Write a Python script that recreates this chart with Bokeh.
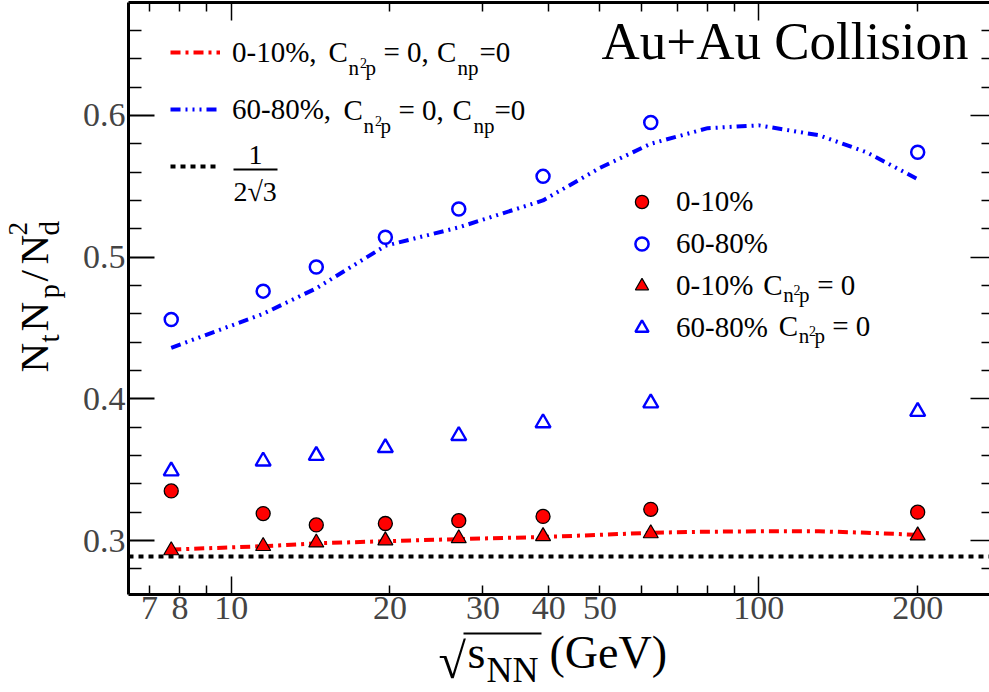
import math
from bokeh.plotting import figure
from bokeh.models import (LinearAxis, FixedTicker, Label, Legend, LegendItem,
                          BoxAnnotation, Range1d)
from bokeh.embed import file_html
from bokeh.resources import INLINE

FONT = "Liberation Serif"

# ---------------- data ----------------
energy = [7.7, 11.5, 14.5, 19.6, 27, 39, 62.4, 200]
ratio_central = [0.335, 0.319, 0.311, 0.312, 0.314, 0.317, 0.322, 0.320]
ratio_peripheral = [0.456, 0.476, 0.493, 0.514, 0.534, 0.557, 0.595, 0.574]
ratio_central_c0 = [0.293, 0.296, 0.2985, 0.300, 0.3015, 0.303, 0.305, 0.3035]
ratio_peripheral_c0 = [0.349, 0.356, 0.360, 0.3655, 0.374, 0.383, 0.397, 0.391]

model_energy = [7.7, 11.5, 14.5, 19.6, 27, 39, 50, 62.4, 80, 100, 130, 160, 200]
model_central = [0.2936, 0.296, 0.298, 0.2995, 0.301, 0.3025, 0.304, 0.3055,
                 0.3062, 0.3065, 0.3065, 0.3055, 0.304]
model_peripheral = [0.436, 0.460, 0.478, 0.508, 0.521, 0.540, 0.563, 0.580,
                    0.591, 0.593, 0.586, 0.574, 0.555]
coalescence_limit = 1 / (2 * math.sqrt(3))

# axis box (data units)
X_START, X_END = 6.39, 273.6
Y_START, Y_END = 0.2619, 0.6797
x_decade_ticks = [10, 100]
x_other_label_ticks = [7, 8, 20, 30, 40, 50, 200]
x_minor_ticks = [7, 8, 9, 20, 30, 40, 50, 60, 70, 80, 90, 200]
y_ticks = [0.3, 0.4, 0.5, 0.6]
y_minor_ticks = [0.28, 0.32, 0.34, 0.36, 0.38, 0.42, 0.44, 0.46, 0.48,
                 0.52, 0.54, 0.56, 0.58, 0.62, 0.64, 0.66]

# ---------------- geometry ----------------
W, H = 989, 692
BOX_L, BOX_R, BOX_T, BOX_B = 128, 989, 2, 594      # axis box in pixels
PPD = (BOX_R - BOX_L) / math.log10(X_END / X_START)
PPU = (BOX_B - BOX_T) / (Y_END - Y_START)
XR = (10 ** (math.log10(X_START) - BOX_L / PPD),
      10 ** (math.log10(X_END) + (W - BOX_R) / PPD))
YR = (Y_START - (H - BOX_B) / PPU, Y_END + BOX_T / PPU)

p = figure(width=W, height=H, x_axis_type="log",
           x_range=Range1d(*XR), y_range=Range1d(*YR),
           x_axis_location=None, y_axis_location=None,
           output_backend="svg", toolbar_location=None,
           min_border=0)
p.outline_line_color = None
p.xgrid.visible = False
p.ygrid.visible = False
p.background_fill_color = "white"
p.border_fill_color = "white"


def axis(ticks, minor, major_in, minor_in, loc, bounds, line=True,
         size="34px", standoff=2):
    ax = LinearAxis(ticker=FixedTicker(ticks=ticks, minor_ticks=minor),
                    major_tick_in=major_in, major_tick_out=0,
                    minor_tick_in=minor_in, minor_tick_out=0,
                    major_label_text_font=FONT,
                    major_label_text_font_size=size,
                    major_label_standoff=standoff,
                    major_tick_line_width=1.5, minor_tick_line_width=1.5,
                    axis_line_width=3, fixed_location=loc, bounds=bounds)
    if not line:
        ax.axis_line_color = None
    return ax


XB, YB = (X_START, X_END), (Y_START, Y_END)
# bottom: long labelled ticks at decades + short ticks, then the other labels
p.add_layout(axis(x_decade_ticks, x_minor_ticks, 18, 9, Y_START, XB), "below")
p.add_layout(axis(x_other_label_ticks, [], 0, 0, Y_START, XB, line=False), "below")
# top: short and long ticks, no labels
p.add_layout(axis([], x_minor_ticks, 0, 9, Y_END, XB), "above")
p.add_layout(axis([], x_decade_ticks, 0, 18, Y_END, XB, line=False), "above")
# left
y_ax = axis(y_ticks, y_minor_ticks, 26, 13, X_START, YB, standoff=3)
y_ax.major_tick_line_width = 2
p.add_layout(y_ax, "left")
# right: ticks only
p.add_layout(axis([], y_minor_ticks, 0, 8, X_END, YB, line=False), "right")
p.add_layout(axis([], y_ticks, 0, 19, X_END, YB, line=False), "right")

# ---------------- curves & markers ----------------
r_limit = p.line([X_START, X_END], [coalescence_limit, coalescence_limit],
                 line_color="black", line_width=4, line_dash="5 5")
r_mc = p.line(model_energy, model_central, line_color="red", line_width=4,
              line_dash="10 5 3 5")
r_mp = p.line(model_energy, model_peripheral, line_color="blue", line_width=4,
              line_dash="10 5 2 5 2 5 2 5")

r_pc0 = p.scatter(energy, ratio_peripheral_c0, marker="triangle", size=15,
                  fill_color="white", line_color="blue", line_width=2.4)
r_cc0 = p.scatter(energy, ratio_central_c0, marker="triangle", size=15,
                  fill_color="red", line_color="black", line_width=1.2)
r_c = p.scatter(energy, ratio_central, marker="circle", size=14,
                fill_color="red", line_color="black", line_width=1.3)
r_p = p.scatter(energy, ratio_peripheral, marker="circle", size=13,
                fill_color="white", line_color="blue", line_width=2.5)

# ---------------- legends ----------------
leg_style = dict(padding=0, margin=0, border_line_color=None,
                 background_fill_alpha=0, label_text_font=FONT,
                 label_text_font_size="29px", label_text_color="black")
leg1 = Legend(items=[LegendItem(label="0-10%,", renderers=[r_mc]),
                     LegendItem(label="60-80%,", renderers=[r_mp]),
                     LegendItem(label=" ", renderers=[r_limit])],
              location=(170, H - 186), glyph_width=50, glyph_height=40,
              label_height=40, spacing=17, label_standoff=12, **leg_style)
p.add_layout(leg1)

leg2 = Legend(items=[LegendItem(label="0-10%", renderers=[r_c]),
                     LegendItem(label="60-80%", renderers=[r_p]),
                     LegendItem(label="0-10%", renderers=[r_cc0]),
                     LegendItem(label="60-80%", renderers=[r_pc0])],
              location=(625, H - 344), glyph_width=33, glyph_height=33,
              label_height=33, spacing=9, label_standoff=18, **leg_style)
p.add_layout(leg2)

# ---------------- texts ----------------
SHIFT = 0.40   # baseline correction (fraction of font size)


def put(text, size, x, y, align="left"):
    p.add_layout(Label(x=x, y=H - (y - SHIFT * size),
                       x_units="screen", y_units="screen",
                       text=text, text_font=FONT, text_font_size=f"{size}px",
                       text_color="black", text_baseline="alphabetic",
                       text_align=align))


def put_rot(text, size, y_start, base_x):
    p.add_layout(Label(x=base_x - SHIFT * size, y=H - y_start,
                       x_units="screen", y_units="screen", text=text,
                       text_font=FONT, text_font_size=f"{size}px",
                       text_color="black", text_baseline="alphabetic",
                       text_align="left", angle=math.pi / 2))


def bar(x0, x1, y0, y1):
    p.add_layout(BoxAnnotation(left=x0, right=x1, top=H - y0, bottom=H - y1,
                               left_units="screen", right_units="screen",
                               top_units="screen", bottom_units="screen",
                               fill_color="black", fill_alpha=1,
                               line_color=None))


# title
put("Au+Au Collision", 53, 601, 62)

# legend 1 subscripted parts
for (t, s, x, y) in [("C", 29, 328, 63.5),
                     ("n", 21, 348, 75.5), ("2", 14, 359.5, 68),
                     ("p", 21, 365, 75.5), ("= 0,", 29, 383, 63.5),
                     ("C", 29, 436.5, 63.5), ("np", 21, 457, 75.5),
                     ("=0", 29, 479, 63.5),
                     ("C", 29, 343, 121.5),
                     ("n", 21, 363, 133.5), ("2", 14, 374.5, 126),
                     ("p", 21, 380, 133.5), ("= 0,", 29, 398, 121.5),
                     ("C", 29, 452, 121.5), ("np", 21, 473, 133.5),
                     ("=0", 29, 494, 121.5)]:
    put(t, s, x, y)
put("1", 28, 255, 166, align="center")
bar(233, 277, 168, 170)
put("2\u221a3", 28, 233, 202)

# legend 2 subscripted parts
for (t, s, x, y) in [("C", 29, 762.7, 296),
                     ("n", 21, 782.7, 303), ("2", 14, 793, 295),
                     ("p", 21, 798.5, 303), ("= 0", 29, 816.7, 296),
                     ("C", 29, 778.3, 337),
                     ("n", 21, 798.3, 344), ("2", 14, 808.6, 336),
                     ("p", 21, 814, 344), ("= 0", 29, 831.7, 337)]:
    put(t, s, x, y)

# x axis title
put("\u221a", 50, 438, 680)
bar(463, 541, 632, 634)
put("s", 46, 467, 670)
put("NN", 36, 486, 684)
put("(GeV)", 46, 549, 670)

# y axis title (rotated)
put_rot("N", 41, 372, 50)
put_rot("t", 29, 342, 60)
put_rot("N", 41, 331, 50)
put_rot("p", 29, 298, 60)
put_rot("/", 41, 281, 50)
put_rot("N", 41, 264, 50)
put_rot("d", 29, 235, 60)
put_rot("2", 27, 235, 28)

open("out.html", "w").write(file_html(p, INLINE))
